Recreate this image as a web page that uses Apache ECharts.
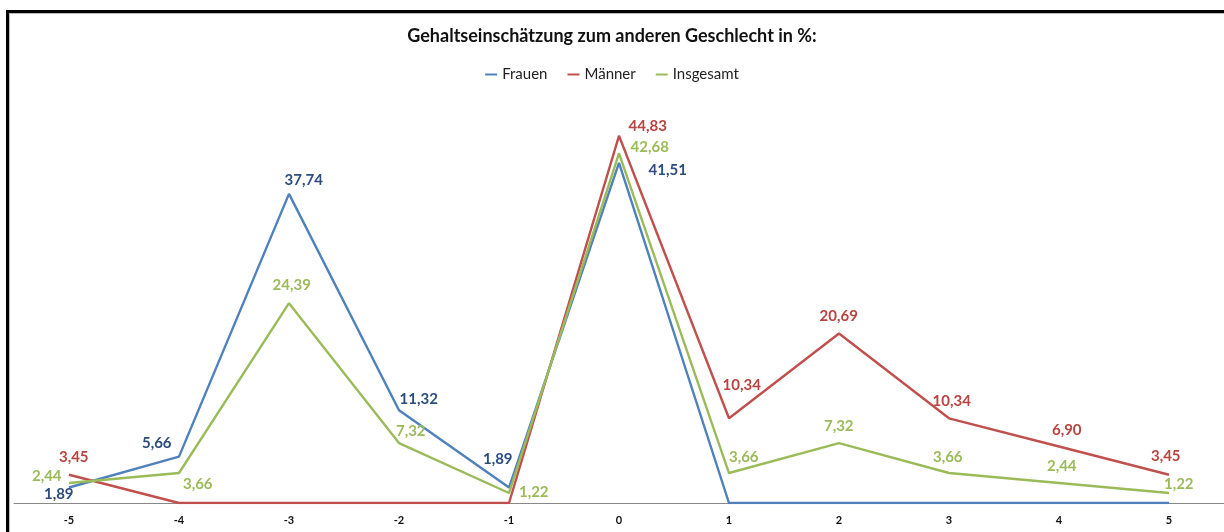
<!DOCTYPE html>
<html><head><meta charset="utf-8">
<script src="https://cdn.jsdelivr.net/npm/echarts@6/dist/echarts.min.js"></script>
<style>
html,body{margin:0;padding:0;background:#fff;overflow:hidden}
#c{position:absolute;left:0;top:0;width:1224px;height:532px}
#f{position:absolute;left:6px;top:10px;width:1240px;height:560px;border:3px solid #000;box-shadow:inset 1px 1px 0 #bbb;pointer-events:none}
</style></head><body>
<div id="c"></div><div id="f"></div>
<script>
const categories = ['-5','-4','-3','-2','-1','0','1','2','3','4','5'];
const frauen    = [1.89, 5.66, 37.74, 11.32, 1.89, 41.51, 0, 0, 0, 0, 0];
const maenner   = [3.45, 0, 0, 0, 0, 44.83, 10.34, 20.69, 10.34, 6.90, 3.45];
const insgesamt = [2.44, 3.66, 24.39, 7.32, 1.22, 42.68, 3.66, 7.32, 3.66, 2.44, 1.22];

const offF = [[-10,7],[-22,-13],[15,-13],[20,-11],[-11,-28],[49,7],[0,0],[0,0],[0,0],[0,0],[0,0]];
const offM = [[5,-17],[0,0],[0,0],[0,0],[0,0],[29,-9],[13,-33],[0,-17],[3,-17],[8,-16],[-3,-18]];
const offI = [[-22,-7],[19,11],[3,-18],[12,-12],[25,-1],[31,-6],[15,-16],[0,-17],[-1,-16],[3,-17],[10,-9]];

function fmt(p){ return p.value === 0 ? '' : p.value.toFixed(2).replace('.', ','); }

function build(vals, offs){
  return vals.map((v,i)=>({ value: v, label: { position: offs[i] } }));
}

const chart = echarts.init(document.getElementById('c'));
function ser(name, color, vals, offs, lc, z){
  return { name, type: 'line', symbol: 'circle', symbolSize: 0.5, showSymbol: true, showAllSymbol: true, color,
    itemStyle: { color },
    lineStyle: { width: 2.4, color },
    label: { show: true, formatter: fmt, color: lc,
      fontFamily: 'Lato', fontWeight: 'bold', fontSize: 15, align: 'center', verticalAlign: 'middle' },
    labelLayout: { hideOverlap: false },
    emphasis: { disabled: true },
    data: build(vals, offs), z };
}
chart.setOption({
  animation: false,
  title: { text: 'Gehaltseinschätzung zum anderen Geschlecht in %:', left: 'center', top: 22,
    textStyle: { fontFamily: 'Lato', fontWeight: 'bold', fontSize: 18, color: '#111' } },
  legend: { top: 62, left: 'center', itemWidth: 12, itemHeight: 2, itemGap: 20, icon: 'rect',
    textStyle: { fontFamily: 'Lato', fontSize: 15, color: '#222' },
    data: ['Frauen','Männer','Insgesamt'] },
  grid: { left: 14, right: -2, top: 100, bottom: 29 },
  xAxis: { type: 'category', data: categories, boundaryGap: true,
    axisLine: { lineStyle: { color: '#888', width: 1 } },
    axisTick: { show: false },
    axisLabel: { fontFamily: 'Lato', fontWeight: 'bold', fontSize: 11, color: '#111', margin: 12 } },
  yAxis: { type: 'value', min: 0, max: 49.2, show: false, splitLine: { show: false } },
  series: [
    ser('Frauen', '#4F81BD', frauen, offF, '#2C4D7D', 3),
    ser('Männer', '#C0504D', maenner, offM, '#B9433F', 2),
    ser('Insgesamt', '#9BBB59', insgesamt, offI, '#9BBB59', 4)
  ]
});
</script></body></html>
